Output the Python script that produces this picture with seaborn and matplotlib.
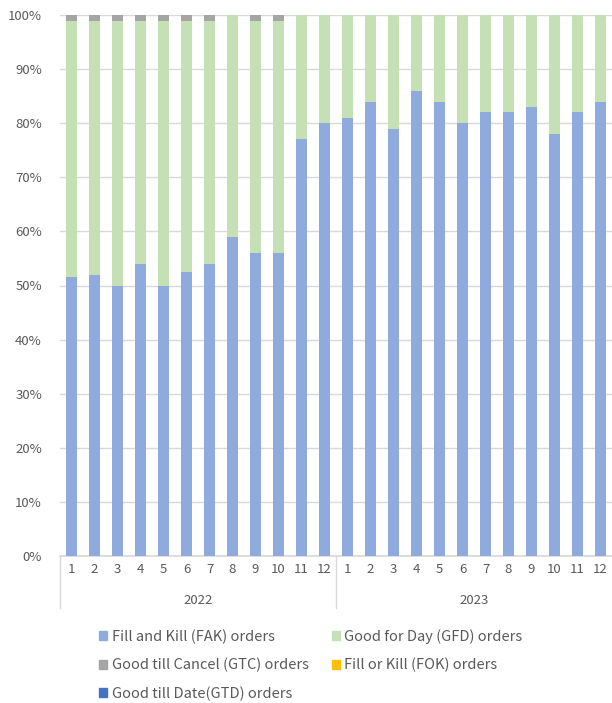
"""Monthly order-type share, 2022-2023, as a 100% stacked bar chart."""

import matplotlib.pyplot as plt
import matplotlib.transforms as mtransforms
import numpy as np
import pandas as pd
import seaborn as sns
from matplotlib.patches import Patch

YEARS = ["2022", "2023"]
MONTHS = [str(m) for m in range(1, 13)]

FAK = [51.5, 52, 50, 54, 50, 52.5, 54, 59, 56, 56, 77, 80,
       81, 84, 79, 86, 84, 80, 82, 82, 83, 78, 82, 84]
GTC = [1.1, 1.1, 1.1, 1.1, 1.1, 1.1, 1.1, 0, 1.1, 1.1, 0, 0,
       0, 0, 0, 0, 0, 0, 0, 0, 0, 0, 0, 0]
FOK = [0.0] * 24
GTD = [0.0] * 24
GFD = [100 - a - b - c - d for a, b, c, d in zip(FAK, GTC, FOK, GTD)]

SERIES = [
    ("Fill and Kill (FAK) orders", FAK, "#8FAADC"),
    ("Good for Day (GFD) orders", GFD, "#C5E0B4"),
    ("Good till Cancel (GTC) orders", GTC, "#A5A5A5"),
    ("Fill or Kill (FOK) orders", FOK, "#FFC000"),
    ("Good till Date(GTD) orders", GTD, "#4472C4"),
]

TEXT = "#595959"
FONT = ["Noto Sans CJK JP", "DejaVu Sans"]


def main() -> None:
    sns.set_theme(style="white")
    plt.rcParams["font.family"] = FONT

    keys = [f"{y}-{m}" for y in YEARS for m in MONTHS]
    fig = plt.figure(figsize=(6.12, 7.03), dpi=100)
    ax = fig.add_axes([60 / 612, (703 - 556) / 703, 552 / 612, 541 / 703])

    # overlay cumulative totals, tallest first
    cum = np.cumsum([s[1] for s in SERIES], axis=0)
    for (name, _, color), top in reversed(list(zip(SERIES, cum))):
        df = pd.DataFrame({"key": keys, "value": top})
        sns.barplot(data=df, x="key", y="value", order=keys, color=color,
                    width=0.45, saturation=1, linewidth=0, ax=ax, zorder=3)

    ax.set_xlim(-0.5, 23.5)
    ax.set_ylim(0, 100)
    ax.set_yticks(range(0, 101, 10))
    ax.set_yticklabels([f"{v}%" for v in range(0, 101, 10)],
                       fontsize=9.5, color=TEXT)
    ax.yaxis.grid(True, color="#D9D9D9", lw=1, zorder=0)
    ax.tick_params(axis="y", length=0, pad=13)
    ax.set_xlabel("")
    ax.set_ylabel("")
    ax.set_xticks(range(24))
    ax.set_xticklabels(MONTHS * 2, fontsize=9.5, color=TEXT)
    ax.tick_params(axis="x", length=0, pad=5)
    for side in ["top", "right", "left"]:
        ax.spines[side].set_visible(False)
    ax.spines["bottom"].set_color("#D9D9D9")

    trans = mtransforms.blended_transform_factory(ax.transData, ax.transAxes)
    depth = -(608 - 556) / 541
    for x in [-0.5, 11.5]:
        ax.plot([x, x], [0, depth], transform=trans, color="#D9D9D9",
                lw=1, clip_on=False)
    for i, year in enumerate(YEARS):
        ax.text(5.5 + 12 * i, -(600 - 556) / 541, year, transform=trans,
                ha="center", va="center", fontsize=9.5, color=TEXT)

    by_name = {name: Patch(color=color) for name, _, color in SERIES}
    order = [SERIES[i][0] for i in (0, 2, 4, 1, 3)]
    fig.legend([by_name[n] for n in order], order, ncol=2,
               loc="upper left", bbox_to_anchor=(92 / 612, 1 - 622 / 703),
               frameon=False, fontsize=10.5, labelcolor=TEXT,
               handlelength=0.55, handleheight=0.55, handletextpad=0.3,
               columnspacing=1.6, labelspacing=0.95, borderpad=0)

    fig.savefig("out.png", dpi=100)
    plt.close(fig)


if __name__ == "__main__":
    main()
